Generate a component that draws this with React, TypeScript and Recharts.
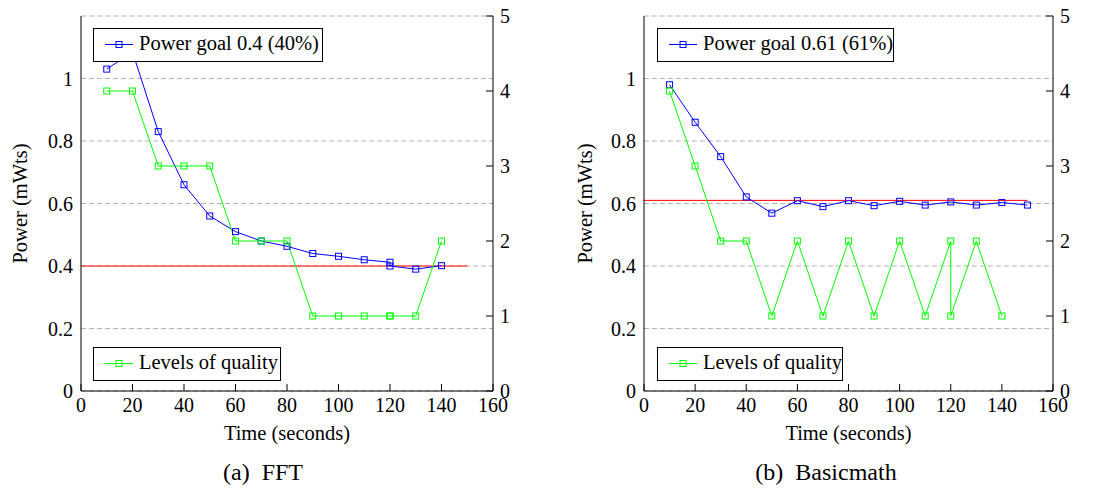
import React from "react";
import {
  LineChart,
  Line,
  XAxis,
  YAxis,
  CartesianGrid,
  ReferenceLine,
} from "recharts";

const timeTicks = [0, 20, 40, 60, 80, 100, 120, 140, 160];
const powerTicks = [0, 0.2, 0.4, 0.6, 0.8, 1];
const levelTicks = [0, 1, 2, 3, 4, 5];

// (a) FFT
const fftTime = [10, 20, 30, 40, 50, 60, 70, 80, 90, 100, 110, 120, 120, 130, 140];
const fftPower = [1.03, 1.085, 0.83, 0.66, 0.56, 0.51, 0.48, 0.463, 0.44, 0.431, 0.42, 0.412, 0.4, 0.39, 0.401];
const fftLevels = [4, 4, 3, 3, 3, 2, 2, 2, 1, 1, 1, 1, 1, 1, 2];
const fftGoal = 0.4;

// (b) Basicmath
const bmPowerTime = [10, 20, 30, 40, 50, 60, 70, 80, 90, 100, 110, 120, 130, 140, 150];
const bmPower = [0.98, 0.86, 0.75, 0.621, 0.569, 0.609, 0.59, 0.609, 0.593, 0.607, 0.595, 0.605, 0.595, 0.603, 0.595];
const bmLevelTime = [10, 20, 30, 40, 50, 60, 70, 80, 90, 100, 110, 120, 120, 130, 140];
const bmLevels = [4, 3, 2, 2, 1, 2, 1, 2, 1, 2, 1, 2, 1, 2, 1];
const bmGoal = 0.61;

const goalEnd = 150;

const FONT = "Liberation Serif, DejaVu Serif, Noto Serif, serif";
const BLUE = "#0000ff";
const GREEN = "#00ff00";
const RED = "#ff0000";

const zip = (ts: number[], vs: number[]) => ts.map((t, i) => ({ t, v: vs[i] }));

const squareDot = (color: string) => (props: any) => {
  const { cx, cy, index } = props;
  if (cx == null || cy == null) return <g key={`d-${index}`} />;
  return (
    <rect
      key={`d-${index}`}
      x={cx - 3}
      y={cy - 3}
      width={6}
      height={6}
      fill="none"
      stroke={color}
      strokeWidth={1}
    />
  );
};

const tickStyle = { fill: "#000", fontSize: 20, fontFamily: FONT };

interface PanelProps {
  left: number;
  width: number;
  plotLeft: number;
  plotRight: number;
  power: { t: number; v: number }[];
  levels: { t: number; v: number }[];
  goal: number;
}

function Panel({ left, width, plotLeft, plotRight, power, levels, goal }: PanelProps) {
  return (
    <div style={{ position: "absolute", left, top: 0, fontFamily: FONT }}>
      <LineChart
        width={width}
        height={495}
        margin={{ top: 16, left: plotLeft - 60, right: width - plotRight - 40, bottom: 74 }}
        style={{ fontFamily: FONT }}
      >
        <CartesianGrid
          xAxisId="bottom"
          yAxisId="left"
          vertical={false}
          stroke="#b3b3b3"
          strokeDasharray="5 3"
        />
        <XAxis
          xAxisId="bottom"
          dataKey="t"
          type="number"
          domain={[0, 160]}
          allowDataOverflow
          ticks={timeTicks}
          height={30}
          tickSize={-7}
          tickMargin={14}
          stroke="#000"
          tick={tickStyle}
        />
        <XAxis
          xAxisId="top"
          orientation="top"
          dataKey="t"
          type="number"
          domain={[0, 160]}
          allowDataOverflow
          ticks={timeTicks}
          height={0}
          tickSize={-7}
          tick={false}
          stroke="#000"
        />
        <YAxis
          yAxisId="left"
          type="number"
          domain={[0, 1.2]}
          allowDataOverflow
          ticks={powerTicks}
          width={60}
          tickLine={false}
          tickSize={0}
          tickMargin={8}
          stroke="#000"
          tick={tickStyle}
        />
        <YAxis
          yAxisId="right"
          orientation="right"
          type="number"
          domain={[0, 5]}
          allowDataOverflow
          ticks={levelTicks}
          width={40}
          tickSize={-7}
          tickMargin={14}
          stroke="#000"
          tick={tickStyle}
        />
        <ReferenceLine
          xAxisId="bottom"
          yAxisId="left"
          segment={[
            { x: 0, y: goal },
            { x: goalEnd, y: goal },
          ]}
          stroke={RED}
          strokeWidth={1}
          ifOverflow="extendDomain"
        />
        <Line
          xAxisId="bottom"
          yAxisId="left"
          data={power}
          dataKey="v"
          type="linear"
          stroke={BLUE}
          strokeWidth={1}
          dot={squareDot(BLUE)}
          activeDot={false}
          isAnimationActive={false}
        />
        <Line
          xAxisId="bottom"
          yAxisId="right"
          data={levels}
          dataKey="v"
          type="linear"
          stroke={GREEN}
          strokeWidth={1}
          dot={squareDot(GREEN)}
          activeDot={false}
          isAnimationActive={false}
        />
      </LineChart>
    </div>
  );
}

function LegendBox({ x, y, w, color, label }: { x: number; y: number; w: number; color: string; label: string }) {
  return (
    <g>
      <rect x={x + 0.5} y={y + 0.5} width={w} height={33} fill="#fff" stroke="#000" strokeWidth={1} />
      <line x1={x + 12} x2={x + 40} y1={y + 16.5} y2={y + 16.5} stroke={color} strokeWidth={1} />
      <rect x={x + 23} y={y + 13.5} width={6} height={6} fill="none" stroke={color} strokeWidth={1} />
      <text x={x + 46} y={y + 22} fontSize={20.5} fill="#000">
        {label}
      </text>
    </g>
  );
}

export default function App() {
  return (
    <div style={{ position: "absolute", left: 0, top: 0, width: 1103, height: 495, background: "#fff", fontFamily: FONT }}>
      <Panel
        left={0}
        width={550}
        plotLeft={81}
        plotRight={493}
        power={zip(fftTime, fftPower)}
        levels={zip(fftTime, fftLevels)}
        goal={fftGoal}
      />
      <Panel
        left={550}
        width={553}
        plotLeft={94}
        plotRight={503}
        power={zip(bmPowerTime, bmPower)}
        levels={zip(bmLevelTime, bmLevels)}
        goal={bmGoal}
      />
      <svg
        width={1103}
        height={495}
        fontFamily={FONT}
        style={{ position: "absolute", left: 0, top: 0, pointerEvents: "none", fontFamily: FONT }}
      >
        <LegendBox x={93} y={28} w={229} color={BLUE} label="Power goal 0.4 (40%)" />
        <LegendBox x={93} y={347} w={187} color={GREEN} label="Levels of quality" />
        <LegendBox x={657} y={28} w={236} color={BLUE} label="Power goal 0.61 (61%)" />
        <LegendBox x={657} y={347} w={185} color={GREEN} label="Levels of quality" />

        <text transform="translate(26.5,203.5) rotate(-90)" textAnchor="middle" fontSize={20.5}>
          Power (mWts)
        </text>
        <text transform="translate(591.5,203.5) rotate(-90)" textAnchor="middle" fontSize={20.5}>
          Power (mWts)
        </text>
        <text x={287} y={440} textAnchor="middle" fontSize={20.5}>
          Time (seconds)
        </text>
        <text x={848.5} y={440} textAnchor="middle" fontSize={20.5}>
          Time (seconds)
        </text>
        <text x={263} y={480} textAnchor="middle" fontSize={24} style={{ whiteSpace: "pre" }}>
          {"(a)  FFT"}
        </text>
        <text x={826} y={480} textAnchor="middle" fontSize={24} style={{ whiteSpace: "pre" }}>
          {"(b)  Basicmath"}
        </text>
      </svg>
    </div>
  );
}
